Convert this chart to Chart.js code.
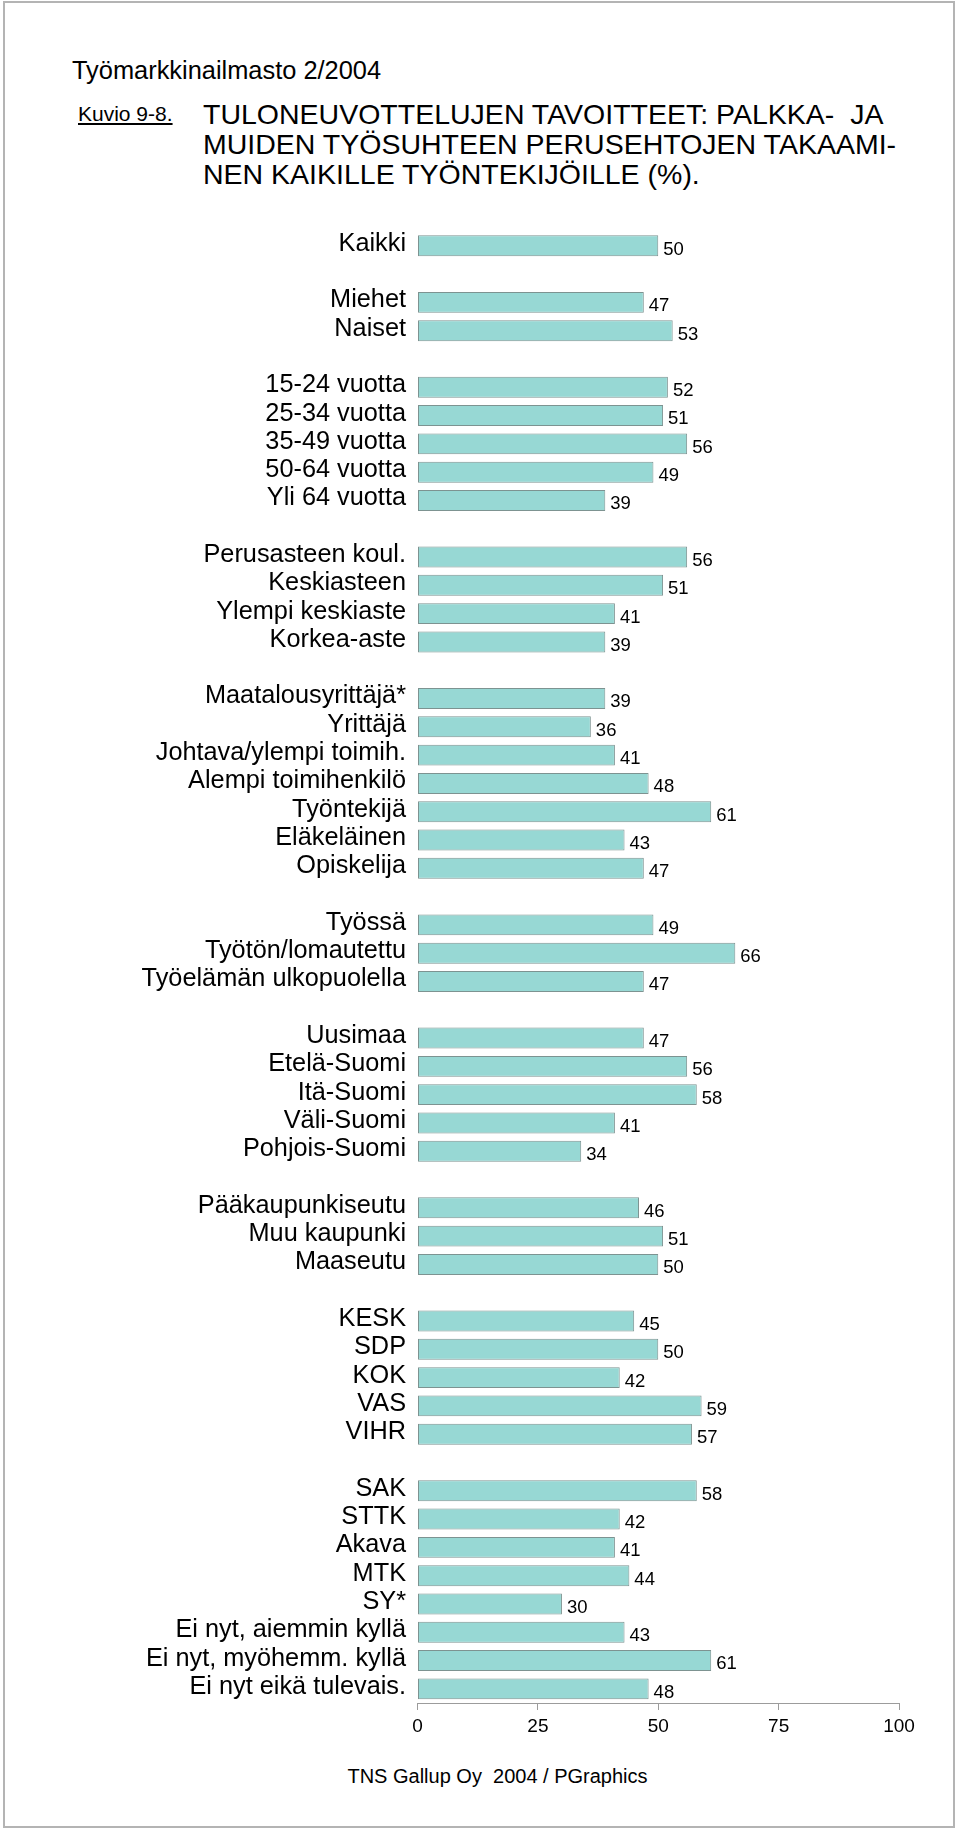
<!DOCTYPE html>
<html lang="fi">
<head>
<meta charset="utf-8">
<title>Kuvio 9-8</title>
<script src="https://cdn.jsdelivr.net/npm/chart.js@4/dist/chart.umd.min.js"></script>
<style>
    body {
        margin: 0;
        background: #fff;
        font-family: "Liberation Sans", Arial, sans-serif;
        color: #000;
    }
    .sivu {
        position: relative;
        width: 960px;
        height: 1833px;
        overflow: hidden;
    }
    .kehys {
        position: absolute;
        left: 3px;
        top: 1px;
        width: 948px;
        height: 1823px;
        border: 2px solid #b4b4b4;
    }
    .teksti {
        position: absolute;
        white-space: nowrap;
        line-height: 1;
    }
    #otsikko {
        left: 203px;
        top: 99.4px;
        font-size: 28.5px;
        line-height: 30px;
    }
    #kaavio {
        position: absolute;
        left: 0;
        top: 200px;
    }
</style>
</head>
<body>
<div class="sivu">
    <div class="kehys"></div>
    <div class="teksti" style="left:72px; top:58px; font-size:25.4px;">Työmarkkinailmasto 2/2004</div>
    <div class="teksti" style="left:78px; top:103px; font-size:21px; text-decoration:underline;">Kuvio 9-8.</div>
    <div class="teksti" id="otsikko">TULONEUVOTTELUJEN TAVOITTEET: PALKKA-&nbsp; JA<br>MUIDEN TYÖSUHTEEN PERUSEHTOJEN TAKAAMI-<br>NEN KAIKILLE TYÖNTEKIJÖILLE (%).</div>
    <canvas id="kaavio" width="960" height="1560"></canvas>
    <div class="teksti" style="left:0; width:995px; text-align:center; top:1766px; font-size:20px;">TNS Gallup Oy&nbsp; 2004 / PGraphics</div>
</div>

<script>
// Ryhmien nimet ja arvot (%)
const kaikkiLabels = ['Kaikki'];
const kaikkiValues = [50];

const sukupuoliLabels = ['Miehet', 'Naiset'];
const sukupuoliValues = [47, 53];

const ikaLabels = ['15-24 vuotta', '25-34 vuotta', '35-49 vuotta', '50-64 vuotta', 'Yli 64 vuotta'];
const ikaValues = [52, 51, 56, 49, 39];

const koulutusLabels = ['Perusasteen koul.', 'Keskiasteen', 'Ylempi keskiaste', 'Korkea-aste'];
const koulutusValues = [56, 51, 41, 39];

const ammattiLabels = ['Maatalousyrittäjä*', 'Yrittäjä', 'Johtava/ylempi toimih.', 'Alempi toimihenkilö', 'Työntekijä', 'Eläkeläinen', 'Opiskelija'];
const ammattiValues = [39, 36, 41, 48, 61, 43, 47];

const tyoLabels = ['Työssä', 'Työtön/lomautettu', 'Työelämän ulkopuolella'];
const tyoValues = [49, 66, 47];

const alueLabels = ['Uusimaa', 'Etelä-Suomi', 'Itä-Suomi', 'Väli-Suomi', 'Pohjois-Suomi'];
const alueValues = [47, 56, 58, 41, 34];

const asuinLabels = ['Pääkaupunkiseutu', 'Muu kaupunki', 'Maaseutu'];
const asuinValues = [46, 51, 50];

const puolueLabels = ['KESK', 'SDP', 'KOK', 'VAS', 'VIHR'];
const puolueValues = [45, 50, 42, 59, 57];

const liittoLabels = ['SAK', 'STTK', 'Akava', 'MTK', 'SY*', 'Ei nyt, aiemmin kyllä', 'Ei nyt, myöhemm. kyllä', 'Ei nyt eikä tulevais.'];
const liittoValues = [58, 42, 41, 44, 30, 43, 61, 48];

const xTicks = [0, 25, 50, 75, 100];

// Kootaan ryhmät yhteen, ryhmien väliin tyhjä rivi
const ryhmaLabels = [kaikkiLabels, sukupuoliLabels, ikaLabels, koulutusLabels, ammattiLabels, tyoLabels, alueLabels, asuinLabels, puolueLabels, liittoLabels];
const ryhmaValues = [kaikkiValues, sukupuoliValues, ikaValues, koulutusValues, ammattiValues, tyoValues, alueValues, asuinValues, puolueValues, liittoValues];

const labels = [];
const values = [];
ryhmaLabels.forEach((ryhma, i) => {
    if (i > 0) {
        labels.push('');
        values.push(null);
    }
    ryhma.forEach((nimi, j) => {
        labels.push(nimi);
        values.push(ryhmaValues[i][j]);
    });
});

const FONTTI = '"Liberation Sans", Arial, sans-serif';
Chart.defaults.font.family = FONTTI;
Chart.defaults.color = '#000';

// Arvot palkkien perään
const arvoLabelit = {
    id: 'arvoLabelit',
    afterDatasetsDraw(chart) {
        const ctx = chart.ctx;
        const meta = chart.getDatasetMeta(0);
        ctx.save();
        ctx.font = '18.5px ' + FONTTI;
        ctx.fillStyle = '#000';
        ctx.textAlign = 'left';
        ctx.textBaseline = 'alphabetic';
        meta.data.forEach((bar, i) => {
            const v = chart.data.datasets[0].data[i];
            if (v === null || v === undefined) return;
            ctx.fillText(String(v), bar.x + 5, bar.y + 8.9);
        });
        ctx.restore();
    }
};

new Chart(document.getElementById('kaavio'), {
    type: 'bar',
    data: {
        labels: labels,
        datasets: [{
            data: values,
            backgroundColor: '#97d8d4',
            borderColor: '#7d9391',
            borderWidth: 1,
            borderSkipped: false,
            categoryPercentage: 1,
            barPercentage: 0.74
        }]
    },
    options: {
        indexAxis: 'y',
        responsive: false,
        animation: false,
        layout: {
            padding: { top: 31.65, bottom: 17, left: 0, right: 61 }
        },
        plugins: {
            legend: { display: false },
            tooltip: { enabled: false }
        },
        scales: {
            y: {
                grid: { display: false, drawTicks: false },
                border: { display: false },
                ticks: {
                    autoSkip: false,
                    color: '#000',
                    font: { size: 25.3 },
                    padding: 11.5,
                    labelOffset: -2
                },
                afterFit(scale) {
                    scale.width = 417.5;
                }
            },
            x: {
                min: xTicks[0],
                max: xTicks[xTicks.length - 1],
                afterBuildTicks(scale) {
                    scale.ticks = xTicks.map(v => ({ value: v }));
                },
                ticks: {
                    color: '#000',
                    font: { size: 19 },
                    padding: 5.5,
                    maxRotation: 0
                },
                grid: {
                    drawOnChartArea: false,
                    drawTicks: true,
                    tickLength: 7,
                    color: '#9c9c9c'
                },
                border: { display: true, color: '#9c9c9c', width: 1 },
                afterFit(scale) {
                    scale.height = 40;
                }
            }
        }
    },
    plugins: [arvoLabelit]
});
</script>
</body>
</html>
